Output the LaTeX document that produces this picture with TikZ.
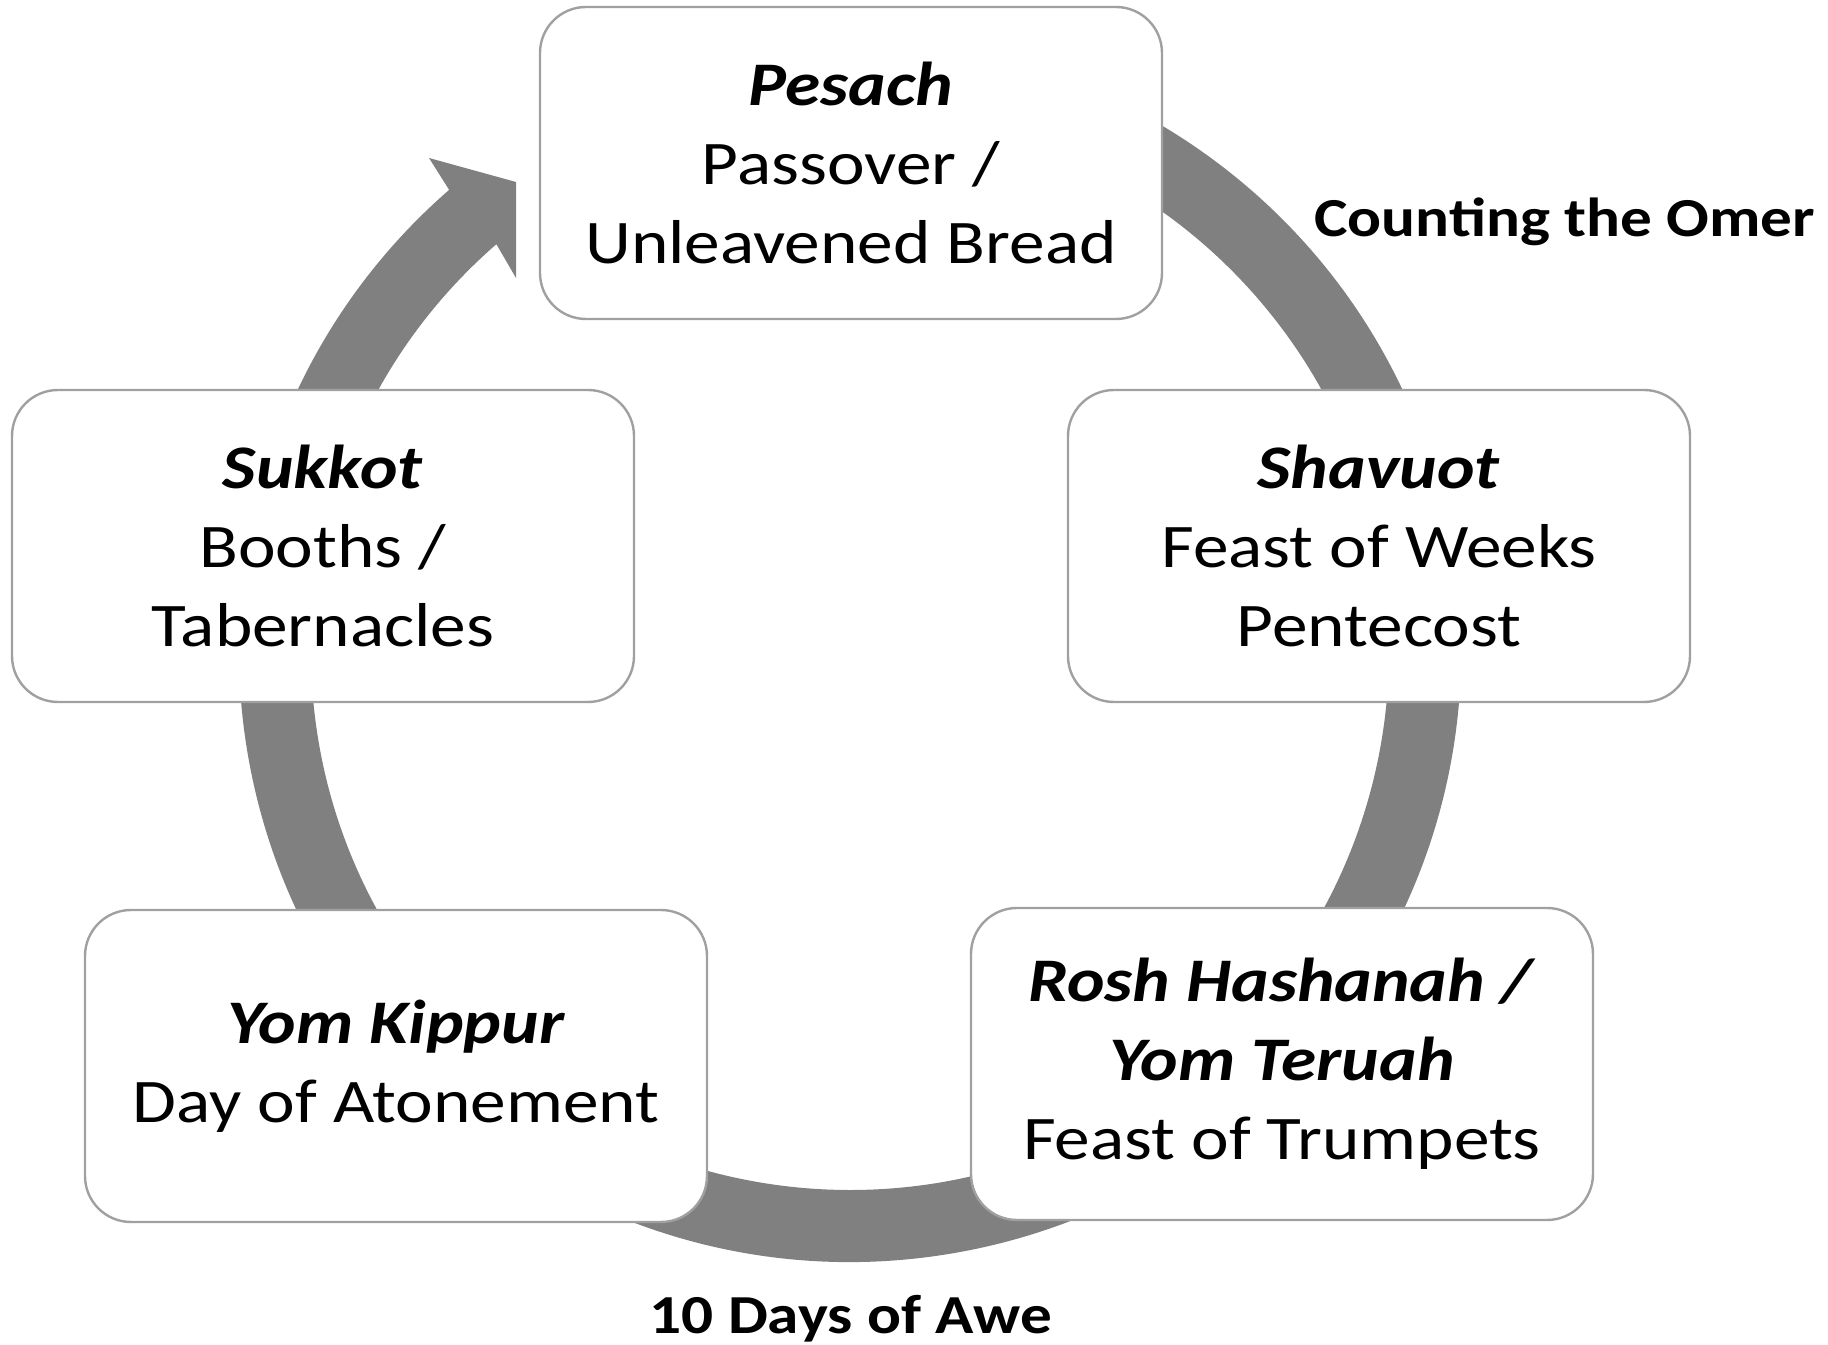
\documentclass[tikz,border=0pt]{standalone}
\usepackage{fontspec}
\setmainfont{Carlito}[FakeStretch=1.15]
\usetikzlibrary{calc}

\definecolor{ringgray}{HTML}{808080}
\definecolor{edgegray}{HTML}{A0A0A0}
\newcommand{\festname}[1]{\textbf{\textit{#1}}}

\begin{document}
\begin{tikzpicture}[x=0.5pt, y=0.5pt,
    feast/.style={draw=edgegray, line width=1.2pt, fill=white, rounded corners=23pt,
        minimum width=311pt, minimum height=156pt, align=center,
        font=\fontsize{31pt}{39.5pt}\selectfont},
    gap/.style={inner sep=0pt, font=\fontsize{27.5pt}{33pt}\selectfont\bfseries}]
        \useasboundingbox (0,0) rectangle (1828,1345);
        \coordinate (ctr) at (850,694);

        % Ring
        \coordinate (wing) at (429,1187);
        \coordinate (tipa) at (516,1163);
        \coordinate (tipb) at (516,1067);
        \fill[ringgray] ($(ctr)+(100:611)$) arc[start angle=100, end angle=-229, radius=611]
            -- (wing) -- (tipa) -- (tipb) -- ($(ctr)+(131:539)$)
            arc[start angle=-229, end angle=100, radius=539] -- cycle;

        % Nodes
        \node (pesach) [feast] at (851,1182) {\festname{Pesach}\\Passover /\\Unleavened Bread};
        \node (shavuot) [feast] at (1379,799) {\festname{Shavuot}\\Feast of Weeks\\Pentecost};
        \node (rosh) [feast] at (1282,281) {\festname{Rosh Hashanah /}\\\festname{Yom Teruah}\\Feast of Trumpets};
        \node (kippur) [feast] at (396,279) {\festname{Yom Kippur}\\Day of Atonement};
        \node (sukkot) [feast] at (323,799) {\festname{Sukkot}\\Booths /\\Tabernacles};

        % Labels
        \node (omer) [gap, anchor=base west] at (1314,1108) {Counting the Omer};
        \node (awe) [gap, anchor=base] at (851,11) {10 Days of Awe};
    \end{tikzpicture}
\end{document}
